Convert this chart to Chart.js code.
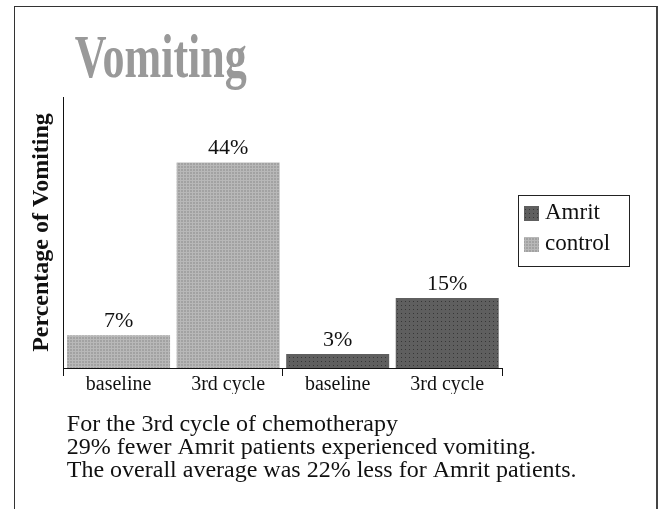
<!DOCTYPE html>
<html>
<head>
<meta charset="utf-8">
<script src="https://cdn.jsdelivr.net/npm/chart.js@4/dist/chart.umd.min.js"></script>
<style>
  html, body { margin: 0; padding: 0; background: #fff; }
  #wrap { position: relative; width: 665px; height: 509px; overflow: hidden; }
  #frame { position: absolute; left: 14px; top: 6px; width: 641px; height: 520px;
           border-top: 1px solid #333; border-left: 1px solid #333; border-right: 2px solid #444; }
  #myChart { position: absolute; left: 0; top: 0; }
</style>
</head>
<body>
<div id="wrap">
  <div id="frame"></div>
  <canvas id="myChart" width="665" height="509"></canvas>
</div>
<script>
//data
const categories = ['baseline', '3rd cycle', 'baseline', '3rd cycle'];
const amritValues = [null, null, 3, 15];
const controlValues = [7, 44, null, null];
const seriesNames = ['Amrit', 'control'];
const chartTitle = 'Vomiting';
const yTitle = 'Percentage of Vomiting';
const captionLines = [
  'For the 3rd cycle of chemotherapy',
  '29% fewer Amrit patients experienced vomiting.',
  'The overall average was 22% less for Amrit patients.'
];

const serif = "'Liberation Serif', 'Times New Roman', serif";

//small texture fills like the original
function makePattern(size, base, spot, drawSpots) {
  const c = document.createElement('canvas');
  c.width = size; c.height = size;
  const g = c.getContext('2d');
  g.fillStyle = base;
  g.fillRect(0, 0, size, size);
  g.fillStyle = spot;
  drawSpots(g);
  return g.createPattern(c, 'repeat');
}
const amritFill = makePattern(4, '#5f5f5f', '#363636', g => g.fillRect(1, 1, 1, 1));
const controlFill = makePattern(3, '#a2a2a2', '#b8b8b8', g => { g.fillRect(0, 0, 3, 1); g.fillRect(0, 0, 1, 3); });

//labels, title, caption and boxed legend
const textPlugin = {
  id: 'texts',
  afterDatasetsDraw(chart) {
    const ctx = chart.ctx;
    ctx.save();
    ctx.font = '22px ' + serif;
    ctx.fillStyle = '#111';
    ctx.textAlign = 'center';
    ctx.textBaseline = 'bottom';
    chart.data.datasets.forEach((ds, i) => {
      chart.getDatasetMeta(i).data.forEach((bar, j) => {
        const v = ds.data[j];
        if (v == null) return;
        ctx.fillText(v + '%', bar.x, bar.y - 3);
      });
    });
    ctx.restore();
  },
  afterDraw(chart) {
    const ctx = chart.ctx;
    const ca = chart.chartArea;
    ctx.save();
    // title, narrow bold grey
    ctx.font = 'bold 62px ' + serif;
    ctx.fillStyle = '#999999';
    ctx.textBaseline = 'alphabetic';
    const w = ctx.measureText(chartTitle).width;
    ctx.translate(ca.left + 11, 77);
    ctx.scale(172 / w, 1);
    ctx.fillText(chartTitle, 0, 0);
    ctx.restore();

    // caption under the axis
    ctx.save();
    ctx.font = '24px ' + serif;
    ctx.fillStyle = '#111';
    captionLines.forEach((line, k) => {
      ctx.fillText(line, ca.left + 3, ca.bottom + 63 + k * 23);
    });
    ctx.restore();

    // legend with border
    ctx.save();
    const lx = ca.right + 16, ly = 195, lw = 111, lh = 71;
    ctx.fillStyle = '#fff';
    ctx.fillRect(lx, ly, lw, lh);
    ctx.strokeStyle = '#222';
    ctx.lineWidth = 1;
    ctx.strokeRect(lx + 0.5, ly + 0.5, lw, lh);
    ctx.font = '23px ' + serif;
    ctx.textBaseline = 'middle';
    chart.data.datasets.forEach((ds, i) => {
      const cy = ly + 18 + i * 31;
      ctx.fillStyle = ds.backgroundColor;
      ctx.fillRect(lx + 6, cy - 7, 15, 15);
      ctx.fillStyle = '#111';
      ctx.fillText(ds.label, lx + 27, cy);
    });
    ctx.restore();
  }
};

const canvasElement = document.getElementById('myChart');

let config = {
  type: 'bar',
  data: {
    labels: categories,
    datasets: [{
      label: seriesNames[0],
      data: amritValues,
      backgroundColor: amritFill
    }, {
      label: seriesNames[1],
      data: controlValues,
      backgroundColor: controlFill
    }]
  },
  options: {
    responsive: false,
    animation: false,
    devicePixelRatio: 1,
    barPercentage: 0.94,
    categoryPercentage: 1,
    layout: {
      padding: { left: 27, top: 97, right: 163, bottom: 115 }
    },
    scales: {
      x: {
        stacked: true,
        grid: {
          offset: true,
          drawOnChartArea: false,
          tickLength: 8,
          color: c => (c.index === undefined || c.index === 0 || c.index === 2) ? '#111' : 'rgba(0,0,0,0)'
        },
        border: { display: true, color: '#111', width: 1 },
        ticks: { color: '#111', font: { family: serif, size: 20 }, padding: -3 }
      },
      y: {
        stacked: true,
        min: 0,
        max: 58,
        grid: { display: false },
        border: { display: true, color: '#111', width: 1 },
        ticks: { display: false },
        title: {
          display: true,
          text: yTitle,
          color: '#111',
          font: { family: serif, size: 24, weight: 'bold' },
          padding: { top: 0, bottom: 0 }
        }
      }
    },
    plugins: {
      legend: { display: false },
      tooltip: { enabled: false }
    }
  },
  plugins: [textPlugin]
};

let newChart = new Chart(canvasElement, config);
</script>
</body>
</html>
